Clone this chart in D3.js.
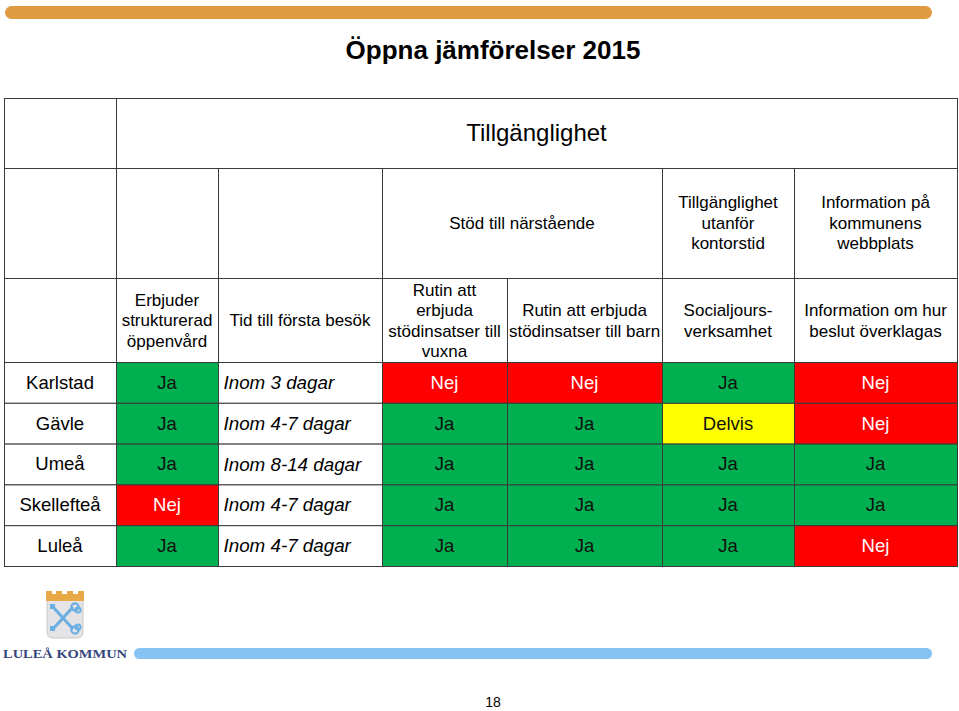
<!DOCTYPE html>
<html>
<head>
<meta charset="utf-8">
<script src="https://cdn.jsdelivr.net/npm/d3@7"></script>
<style>
  html, body { margin: 0; padding: 0; background: #ffffff; }
  svg { display: block; }
  text { font-family: "Liberation Sans", Arial, sans-serif; }
</style>
</head>
<body>
<script>
// ---------- DATA ----------
const pageTitle = "Öppna jämförelser 2015";
const groupHeader = "Tillgänglighet";
const subHeaders = [
  ["Stöd till närstående"],
  ["Tillgänglighet", "utanför", "kontorstid"],
  ["Information på", "kommunens", "webbplats"]
];
const columnLabels = [
  ["Erbjuder", "strukturerad", "öppenvård"],
  ["Tid till första besök"],
  ["Rutin att", "erbjuda", "stödinsatser till", "vuxna"],
  ["Rutin att erbjuda", "stödinsatser till barn"],
  ["Socialjours-", "verksamhet"],
  ["Information om hur", "beslut överklagas"]
];
const municipalities = ["Karlstad", "Gävle", "Umeå", "Skellefteå", "Luleå"];
const strukturerad   = ["Ja", "Ja", "Ja", "Nej", "Ja"];
const tidForstaBesok = ["Inom 3 dagar", "Inom 4-7 dagar", "Inom 8-14 dagar", "Inom 4-7 dagar", "Inom 4-7 dagar"];
const rutinVuxna     = ["Nej", "Ja", "Ja", "Ja", "Ja"];
const rutinBarn      = ["Nej", "Ja", "Ja", "Ja", "Ja"];
const socialjour     = ["Ja", "Delvis", "Ja", "Ja", "Ja"];
const overklagas     = ["Nej", "Nej", "Ja", "Ja", "Nej"];
const answerKeys     = ["Ja", "Nej", "Delvis"];
const pageNumber = "18";
const logoText = "LULEÅ KOMMUN";

// ---------- LAYOUT ----------
const W = 959, H = 711;
const colEdges = [4, 116, 218, 382, 507, 662, 794, 957];
const headRowEdges = [98, 168, 278, 362];
const bodyTop = 362, bodyBottom = 566;
const borderColor = "#3a3a3a";

const svg = d3.select("body").append("svg").attr("width", W).attr("height", H);

const x = d3.scaleLinear().domain(d3.range(colEdges.length)).range(colEdges);
const yHead = d3.scaleLinear().domain(d3.range(headRowEdges.length)).range(headRowEdges);
const y = d3.scaleBand().domain(municipalities).range([bodyTop, bodyBottom]);
const fillScale = d3.scaleOrdinal().domain(answerKeys).range(["#00B050", "#FF0000", "#FFFF00"]);
const textColor = d3.scaleOrdinal().domain(answerKeys).range(["#111111", "#ffffff", "#111111"]);

// ---------- top & bottom bars ----------
svg.append("rect").attr("x", 5).attr("y", 6).attr("width", 927).attr("height", 13)
  .attr("rx", 6.5).attr("fill", "#E09A40");
svg.append("rect").attr("x", 134).attr("y", 648).attr("width", 798).attr("height", 11)
  .attr("rx", 5.5).attr("fill", "#86C2F2");

// ---------- title ----------
svg.append("text").attr("x", 493).attr("y", 59).attr("text-anchor", "middle")
  .attr("font-size", 26).attr("font-weight", "bold").attr("fill", "#000").text(pageTitle);

// ---------- table ----------
const table = svg.append("g");

function cell(c0, c1, y0, y1, fill) {
  table.append("rect")
    .attr("x", x(c0) + 0.5).attr("y", y0 + 0.5)
    .attr("width", x(c1) - x(c0)).attr("height", y1 - y0)
    .attr("fill", fill || "#ffffff")
    .attr("stroke", borderColor).attr("stroke-width", 1);
}
function multiline(cx, cy, lines, size, lh, opts = {}) {
  const t = table.append("text").attr("text-anchor", opts.anchor || "middle")
    .attr("font-size", size).attr("fill", opts.fill || "#000")
    .attr("font-style", opts.italic ? "italic" : null);
  const n = lines.length;
  lines.forEach((ln, i) => {
    t.append("tspan").attr("x", cx)
      .attr("y", cy + (i - (n - 1) / 2) * lh).attr("dy", "0.35em").text(ln);
  });
}

// header row 1
cell(0, 1, yHead(0), yHead(1));
cell(1, 7, yHead(0), yHead(1));
multiline((x(1) + x(7)) / 2, (yHead(0) + yHead(1)) / 2, [groupHeader], 24, 0);

// header row 2
cell(0, 1, yHead(1), yHead(2));
cell(1, 2, yHead(1), yHead(2));
cell(2, 3, yHead(1), yHead(2));
const subSpans = [[3, 5], [5, 6], [6, 7]];
subSpans.forEach((s, i) => {
  cell(s[0], s[1], yHead(1), yHead(2));
  multiline((x(s[0]) + x(s[1])) / 2, (yHead(1) + yHead(2)) / 2, subHeaders[i], 17, 20.5);
});

// header row 3
cell(0, 1, yHead(2), yHead(3));
columnLabels.forEach((lines, i) => {
  cell(i + 1, i + 2, yHead(2), yHead(3));
});
columnLabels.forEach((lines, i) => {
  multiline((x(i + 1) + x(i + 2)) / 2, (yHead(2) + yHead(3)) / 2 + 0.5, lines, 17, 20.5);
});

// body rows
const answerCols = [
  { col: 1, values: strukturerad },
  { col: 3, values: rutinVuxna },
  { col: 4, values: rutinBarn },
  { col: 5, values: socialjour },
  { col: 6, values: overklagas }
];
municipalities.forEach((m, r) => {
  const y0 = y(m), y1 = y(m) + y.bandwidth(), cy = (y0 + y1) / 2;
  cell(0, 1, y0, y1);
  multiline((x(0) + x(1)) / 2, cy, [m], 18.5, 0);
  cell(2, 3, y0, y1);
  multiline(x(2) + 5.5, cy, [tidForstaBesok[r]], 18.8, 0, { anchor: "start", italic: true });
  answerCols.forEach(ac => {
    const v = ac.values[r];
    cell(ac.col, ac.col + 1, y0, y1, fillScale(v));
    multiline((x(ac.col) + x(ac.col + 1)) / 2, cy, [v], 18.5, 0, { fill: textColor(v) });
  });
});

// ---------- logo ----------
const logo = svg.append("g");
logo.append("path")
  .attr("d", "M47,600 L83,600 L83,632 Q83,638 77,638 L53,638 Q47,638 47,632 Z")
  .attr("fill", "#e4e4e6").attr("stroke", "#c9c9cc").attr("stroke-width", 1);
logo.append("path")
  .attr("d", "M46,591 L52,591 L52,594 L56,594 L56,591 L62,591 L62,594 L67,594 L67,591 L73,591 L73,594 L78,594 L78,591 L84,591 L84,601 L46,601 Z")
  .attr("fill", "#E8A848");
const keyColor = "#6AAEE2";
logo.append("line").attr("x1", 53).attr("y1", 607).attr("x2", 73).attr("y2", 629)
  .attr("stroke", keyColor).attr("stroke-width", 3);
logo.append("line").attr("x1", 53).attr("y1", 629).attr("x2", 73).attr("y2", 607)
  .attr("stroke", keyColor).attr("stroke-width", 3);
[[75, 607], [75, 630]].forEach(p => {
  logo.append("circle").attr("cx", p[0]).attr("cy", p[1]).attr("r", 3.6)
    .attr("fill", "none").attr("stroke", keyColor).attr("stroke-width", 2.2);
  logo.append("circle").attr("cx", p[0] + 3).attr("cy", p[1] + (p[1] < 620 ? 3 : -3)).attr("r", 2.6)
    .attr("fill", "none").attr("stroke", keyColor).attr("stroke-width", 2);
});
[[52, 607], [52, 629]].forEach(p => {
  logo.append("rect").attr("x", p[0] - 2).attr("y", p[1] - 3).attr("width", 5).attr("height", 5)
    .attr("fill", keyColor);
});
logo.append("text").attr("x", 3).attr("y", 658)
  .style("font-family", "'Liberation Serif', 'DejaVu Serif', serif")
  .attr("font-size", 13.5).attr("font-weight", "bold").attr("fill", "#34467A")
  .attr("textLength", 124).attr("lengthAdjust", "spacingAndGlyphs")
  .text(logoText);

// ---------- page number ----------
svg.append("text").attr("x", 493).attr("y", 707).attr("text-anchor", "middle")
  .attr("font-size", 14).attr("fill", "#000").text(pageNumber);
</script>
</body>
</html>
